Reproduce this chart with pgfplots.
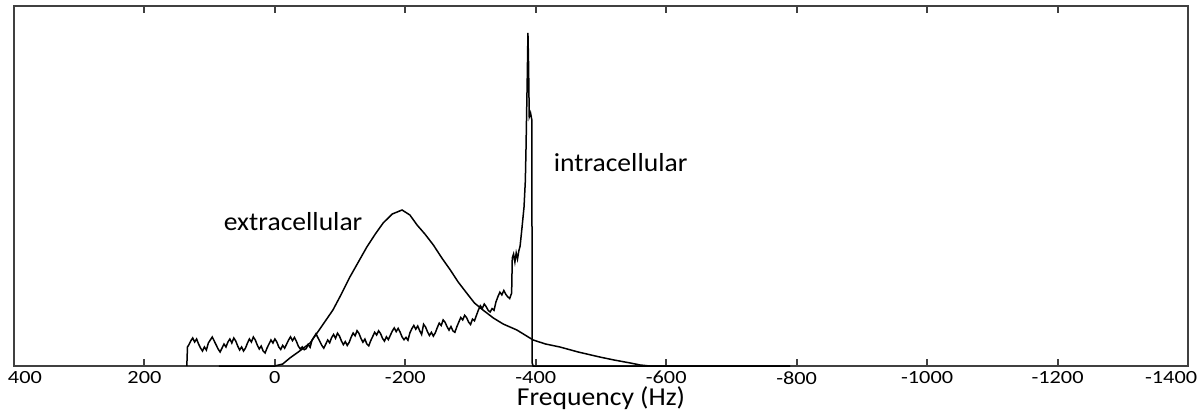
\documentclass[border=0pt]{standalone}
\usepackage{fontspec}
\setmainfont{Carlito}
\usepackage{pgfplots}
\pgfplotsset{compat=1.18}
\begin{document}
\begin{tikzpicture}
\begin{axis}[
  scale only axis,
  width=587pt, height=180pt,
  x dir=reverse,
  xmin=-1400, xmax=400, ymin=0, ymax=360,
  xtick={-1400,-1200,-1000,-800,-600,-400,-200,0,200,400},
  xticklabels={\llap{-1400\hspace{-3.8pt}},-1200,-1000,-800,-600,-400,-200,0,200,\rlap{\hspace{-2.5pt}400}},
  ytick=\empty,
  tick align=inside,
  major tick length=3.5pt,
  xtick pos=both,
  axis line style={draw=black!75, line width=1pt},
  every tick/.style={draw=black!75, line width=1pt},
  tick label style={font=\fontsize{9.3}{11}\selectfont},
  xticklabel style={inner sep=0pt, anchor=north, yshift=-2.5pt, xscale=1.2},
  xlabel={Frequency (Hz)},
  xlabel style={font=\fontsize{12.9}{15}\selectfont, inner sep=0pt, at={(rel axis cs:0.5,0)}, anchor=base, yshift=-19.5pt, xscale=1.07},
  clip=false,
]
\addplot[black, line width=0.75pt] coordinates {
(86,0)(0,0)(-12,2)(-23,8)(-38,15)(-54,23)(-70,38)(-89,56)(-102,72)(-115,89)(-128,104)(-141,119)(-154,132)(-166,143)(-180,152)(-195,156)(-207,151)(-218,141)(-230,132)(-243,121)(-256,108)(-269,96)(-281,84)(-294,73)(-306,63)(-319,56)(-335,48)(-350,42)(-371,36)(-396,26)(-415,22)(-437,19)(-465,14)(-498,9)(-520,6)(-545,3)(-560,1)(-575,0)(-790,0)
};
\addplot[black, line width=0.75pt] table {
x y
135 0
134 19
132 21
129 25
126 28
123 24
120 27
117 22
114 18
111 15
108 19
105 16
102 23
99 26
96 29
93 25
90 21
87 17
84 14
81 18
78 22
75 19
72 24
69 27
66 23
63 28
60 25
57 20
54 16
51 19
48 15
45 18
42 23
39 27
36 24
33 29
30 26
27 21
24 17
21 20
18 15
15 13
12 18
9 22
6 26
3 23
0 27
-3 24
-6 19
-9 16.5
-12 20.6
-15 17.8
-18 21.9
-21 26
-24 29.2
-27 25.4
-30 28.5
-33 24.7
-36 19.8
-39 17
-42 19.1
-45 16.3
-48 17.4
-51 21.6
-54 18.7
-57 25.9
-60 29
-63 32.2
-66 28.3
-69 24.5
-72 20.6
-75 17.8
-78 21.9
-81 26
-84 23.2
-87 28.4
-90 31.5
-93 27.7
-96 32.8
-99 30
-102 25.1
-105 21.3
-108 24.4
-111 20.6
-114 23.7
-117 28.9
-120 33
-123 30.2
-126 35.3
-129 32.5
-132 27.6
-135 23.8
-138 26.9
-141 22
-144 20.2
-147 25.4
-150 29.5
-153 33.7
-156 31
-159 35.2
-162 32.5
-165 27.7
-168 24.9
-171 29.2
-174 26.4
-177 30.7
-180 34.9
-183 38.1
-186 34.4
-189 37.6
-192 33.9
-195 29.1
-198 26.3
-201 28.6
-204 25.8
-207 33.1
-210 37.3
-213 40.5
-216 36.8
-219 40
-222 35.3
-225 31.5
-228 41.7
-231 39
-234 34.2
-237 30.5
-240 33.7
-243 29.9
-246 33.2
-249 38.4
-252 42.9
-255 40.5
-258 46.1
-261 43.7
-264 39.3
-267 35.9
-270 39.5
-273 35.1
-276 33.7
-279 39.3
-282 43.9
-285 48.5
-288 46.1
-291 50.7
-294 48.3
-297 43.9
-300 41.5
-303 46.9
-306 45.2
-309 50.6
-312 55.9
-315 60.3
-318 57.6
-321 62
-324 59.3
-327 55.7
-330 54
-333 57.4
-336 55.7
-339 64.1
-342 69.4
-345 73.8
-348 71.1
-351 75.5
-354 71.8
-357 69.2
-360 67.5
-363 72.9
-364 108
-366 112
-368 104
-370 113
-372 107
-374 115
-376 120
-379 139
-382 159
-384 185
-385 216
-386 253
-387 290
-388 333
-389 300
-390 249
-392 253
-394 246
-394.5 3
-396 0
-790 0
};
\node[anchor=center, font=\fontsize{13}{16}\selectfont, xscale=1.06] at (axis cs:-28,144) {extracellular};
\node[anchor=west, font=\fontsize{13}{16}\selectfont, inner sep=0pt, xscale=1.06] at (axis cs:-427,203) {intracellular};
\end{axis}
\pgfresetboundingbox
\path (current axis.south west) ++(-7pt,-23pt) coordinate (bl);
\path (current axis.north east) ++(7.5pt,3pt) coordinate (tr);
\path[use as bounding box] (bl) rectangle (tr);
\end{tikzpicture}
\end{document}
